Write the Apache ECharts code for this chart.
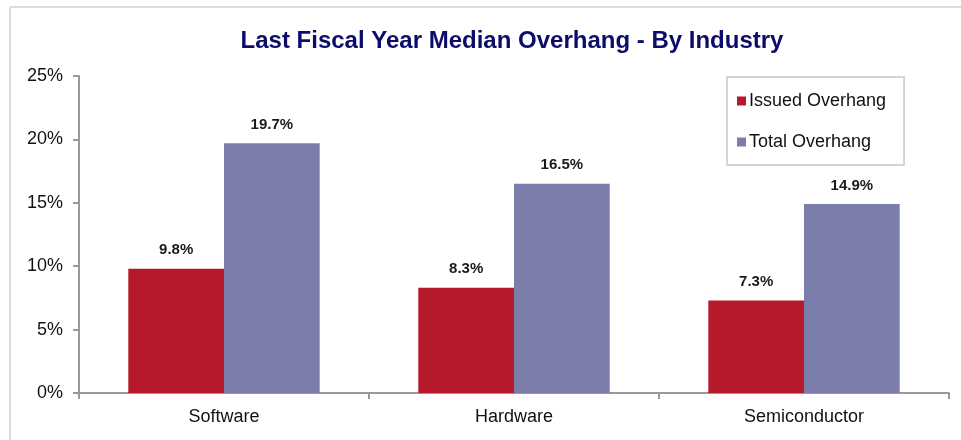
<!DOCTYPE html>
<html><head><meta charset="utf-8">
<script src="https://cdn.jsdelivr.net/npm/echarts@6/dist/echarts.min.js"></script>
<style>html,body{margin:0;padding:0;background:#fff}#c{width:961px;height:440px}</style>
</head><body><div id="c"></div>
<script>
const categories = ['Software', 'Hardware', 'Semiconductor'];
const issuedOverhang = [9.8, 8.3, 7.3];
const totalOverhang = [19.7, 16.5, 14.9];
const yTicks = [0, 5, 10, 15, 20, 25];

const chart = echarts.init(document.getElementById('c'), null, {renderer: 'canvas'});
const lbl = {
  show: true, position: 'top', distance: 11,
  formatter: p => p.value.toFixed(1) + '%',
  fontFamily: 'Liberation Sans, Arial, sans-serif', fontWeight: 'bold', fontSize: 15, color: '#1a1a1a'
};
chart.setOption({
  animation: false,
  backgroundColor: '#fff',
  title: {
    text: 'Last Fiscal Year Median Overhang - By Industry',
    left: 507, top: 24, textAlign: 'center',
    textStyle: {fontFamily: 'Liberation Sans, Arial, sans-serif', fontWeight: 'bold', fontSize: 24, color: '#0c0c6a'}
  },
  graphic: [
    {type: 'line', shape: {x1: 10, y1: 7, x2: 961, y2: 7}, style: {stroke: '#dcdcdc', lineWidth: 2}},
    {type: 'line', shape: {x1: 10, y1: 7, x2: 10, y2: 440}, style: {stroke: '#dcdcdc', lineWidth: 2}}
  ],
  legend: {
    orient: 'vertical', left: 727, top: 77,
    padding: [15, 18, 14, 10], itemGap: 23,
    itemWidth: 9, itemHeight: 9, icon: 'rect',
    borderColor: '#c8c8c8', borderWidth: 1.5,
    textStyle: {fontFamily: 'Liberation Sans, Arial, sans-serif', fontSize: 18, color: '#111', padding: [0, 0, 0, -2]},
    data: ['Issued Overhang', 'Total Overhang']
  },
  grid: {left: 79, right: 12, top: 76, bottom: 47, containLabel: false},
  xAxis: {
    type: 'category', data: categories,
    axisLine: {lineStyle: {color: '#999', width: 2}},
    axisTick: {show: true, length: 6, alignWithLabel: false, lineStyle: {color: '#999', width: 2}},
    axisLabel: {fontFamily: 'Liberation Sans, Arial, sans-serif', fontSize: 18, color: '#111', margin: 15}
  },
  yAxis: {
    type: 'value', min: 0, max: 25, interval: 5,
    axisLine: {show: true, lineStyle: {color: '#999', width: 2}},
    axisTick: {show: true, length: 6, lineStyle: {color: '#999', width: 2}},
    splitLine: {show: false},
    axisLabel: {formatter: v => yTicks.includes(v) ? v + '%' : '', fontFamily: 'Liberation Sans, Arial, sans-serif', fontSize: 18, color: '#111', margin: 16}
  },
  series: [
    {name: 'Issued Overhang', type: 'bar', data: issuedOverhang, barGap: '0%', barCategoryGap: '34%',
     itemStyle: {color: '#B5192B'}, label: lbl},
    {name: 'Total Overhang', type: 'bar', data: totalOverhang, barGap: '0%', barCategoryGap: '34%',
     itemStyle: {color: '#7B7DAB'}, label: lbl}
  ]
});
</script></body></html>
